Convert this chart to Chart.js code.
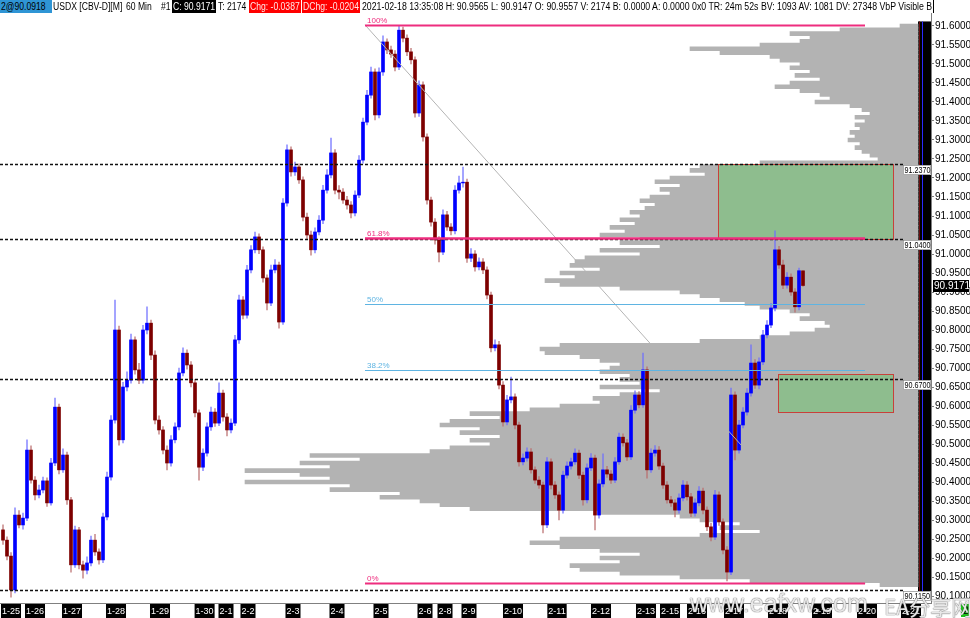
<!DOCTYPE html>
<html><head><meta charset="utf-8">
<script src="https://cdn.jsdelivr.net/npm/chart.js@4.4.1/dist/chart.umd.min.js"></script>
<style>
html,body{margin:0;padding:0;background:#fff;}
#wrap{position:relative;width:970px;height:618px;overflow:hidden;background:#fff;}
#c{position:absolute;left:0;top:0;}
#hdr{position:absolute;left:0;top:0;height:13px;width:933px;overflow:hidden;white-space:nowrap;font:10px "Liberation Sans",sans-serif;line-height:13px;color:#000;border-right:1px solid #000;}
#hdr div{position:absolute;top:0;height:13px;white-space:nowrap;overflow:hidden;}
#hdr span{display:inline-block;transform:scaleX(0.86);transform-origin:0 0;}
#hdr span.lng{transform:scaleX(0.875);}
.blu{background:#2f95d5;}
.blk{background:#000;color:#fff;}
.red{background:#ff0000;color:#ffe6e6;}
#grn{position:absolute;left:961px;top:604px;width:9px;height:13px;background:#19c419;font:10px "Liberation Sans";line-height:13px;padding-left:2px;color:#000;}
.wm{position:absolute;color:rgba(255,255,255,0.85);text-shadow:0 0 1px #666,0 0 1px #666;white-space:nowrap;}
</style></head>
<body>
<div id="wrap">
<canvas id="c" width="970" height="618"></canvas>
<div id="hdr">
<div class="blu" style="left:0;width:51px;padding-left:1px;"><span>2@90.0918</span></div>
<div style="left:53px"><span>USDX [CBV-D][M]</span></div>
<div style="left:126px"><span>60 Min</span></div>
<div style="left:161px"><span>#1</span></div>
<div class="blk" style="left:172px;width:43px;padding-left:1px;"><span>C: 90.9171</span></div>
<div style="left:218px"><span>T: 2174</span></div>
<div class="red" style="left:249px;width:51px;padding-left:1px;"><span>Chg: -0.0387</span></div>
<div class="red" style="left:302px;width:57px;padding-left:1px;"><span>DChg: -0.0204</span></div>
<div style="left:362px;width:580px"><span class="lng">2021-02-18 13:35:08 H: 90.9565 L: 90.9147 O: 90.9557 V: 2174 B: 0.0000 A: 0.0000 0x0 TR: 24m 52s BV: 1093 AV: 1081 DV: 27348 VbP Visible B</span></div>
</div>
<div id="grn">2</div>
<div class="wm" style="left:690px;top:589px;font:25px 'Liberation Sans',sans-serif;">www.eafxw.com</div>
<div class="wm" style="left:884px;top:591px;font:21px 'Noto Sans CJK SC',sans-serif;">EA分享网</div>
</div>
<script>
// ---- candle data (60 Min, USDX) ----
const opens = [
90.274,90.247,90.205,90.116,90.313,90.287,90.305,90.484,90.405,90.366,
90.379,90.403,90.345,90.450,90.597,90.432,90.471,90.353,90.182,90.274,
90.182,90.168,90.187,90.247,90.216,90.195,90.308,90.413,90.563,90.800,
90.511,90.650,90.668,90.774,90.695,90.668,90.800,90.818,90.734,90.563,
90.537,90.484,90.450,90.511,90.545,90.687,90.739,90.708,90.661,90.582,
90.439,90.476,90.545,90.584,90.555,90.634,90.571,90.537,90.555,90.774,
90.879,90.839,90.958,91.011,91.045,91.011,90.937,90.871,90.958,90.971,
90.821,91.134,91.274,91.216,91.229,91.195,91.097,91.050,91.011,91.058,
91.089,91.168,91.208,91.266,91.168,91.163,91.142,91.129,91.108,91.155,
91.247,91.347,91.418,91.479,91.366,91.479,91.558,91.537,91.526,91.492,
91.589,91.568,91.532,91.511,91.371,91.445,91.308,91.142,91.084,91.037,
91.005,91.103,91.071,91.061,91.168,91.187,91.189,90.989,91.000,90.966,
90.979,90.958,90.892,90.753,90.761,90.655,90.558,90.616,90.624,90.550,
90.453,90.463,90.479,90.432,90.405,90.392,90.287,90.453,90.392,90.366,
90.326,90.418,90.442,90.453,90.476,90.418,90.353,90.437,90.463,90.313,
90.395,90.432,90.421,90.405,90.453,90.518,90.503,90.466,90.589,90.629,
90.603,90.695,90.432,90.476,90.484,90.442,90.392,90.353,90.345,90.326,
90.358,90.392,90.361,90.318,90.345,90.376,90.326,90.282,90.255,90.366,
90.295,90.221,90.163,90.629,90.484,90.550,90.584,90.634,90.713,90.655,
90.716,90.787,90.813,90.858,91.011,90.971,90.918,90.939,90.900,90.861,
90.9557];
const highs = [
90.287,90.256,90.214,90.332,90.325,90.318,90.511,90.495,90.414,90.392,
90.413,90.411,90.462,90.621,90.605,90.487,90.479,90.360,90.284,90.281,
90.192,90.203,90.258,90.262,90.224,90.318,90.426,90.575,90.879,90.810,
90.662,90.690,90.789,90.782,90.712,90.812,90.861,90.826,90.745,90.574,
90.546,90.495,90.522,90.556,90.700,90.753,90.748,90.717,90.670,90.590,
90.487,90.556,90.597,90.593,90.661,90.642,90.580,90.566,90.786,90.892,
90.888,90.970,91.022,91.058,91.053,91.019,90.945,90.971,90.985,90.979,
91.146,91.287,91.282,91.242,91.237,91.203,91.108,91.060,91.069,91.101,
91.181,91.222,91.305,91.275,91.180,91.172,91.152,91.138,91.166,91.259,
91.358,91.431,91.492,91.487,91.490,91.574,91.566,91.547,91.535,91.601,
91.597,91.577,91.541,91.519,91.456,91.453,91.316,91.150,91.093,91.046,
91.116,91.112,91.080,91.180,91.205,91.229,91.197,91.014,91.009,90.990,
90.988,90.966,90.900,90.774,90.770,90.664,90.628,90.676,90.632,90.558,
90.474,90.490,90.488,90.440,90.414,90.400,90.464,90.461,90.401,90.374,
90.429,90.453,90.463,90.487,90.484,90.426,90.448,90.475,90.471,90.406,
90.474,90.441,90.430,90.464,90.529,90.527,90.512,90.601,90.640,90.638,
90.739,90.703,90.487,90.496,90.493,90.450,90.401,90.362,90.354,90.369,
90.404,90.401,90.370,90.356,90.388,90.384,90.335,90.291,90.378,90.374,
90.303,90.230,90.647,90.637,90.562,90.596,90.646,90.761,90.722,90.727,
90.799,90.825,90.870,91.061,91.020,90.984,90.951,90.948,90.909,90.963,
90.9565];
const lows = [
90.236,90.195,90.097,90.108,90.279,90.276,90.298,90.397,90.353,90.358,
90.371,90.336,90.339,90.443,90.421,90.425,90.341,90.163,90.175,90.171,
90.147,90.158,90.179,90.207,90.184,90.188,90.300,90.405,90.555,90.497,
90.503,90.640,90.660,90.684,90.659,90.660,90.790,90.722,90.553,90.526,
90.474,90.432,90.442,90.503,90.537,90.679,90.697,90.650,90.571,90.405,
90.430,90.468,90.536,90.546,90.548,90.560,90.521,90.529,90.548,90.765,
90.829,90.831,90.950,91.003,91.001,90.926,90.853,90.864,90.950,90.805,
90.815,91.126,91.205,91.207,91.186,91.087,91.039,90.997,91.003,91.050,
91.080,91.160,91.200,91.158,91.145,91.133,91.118,91.095,91.100,91.148,
91.239,91.340,91.410,91.353,91.358,91.470,91.527,91.517,91.482,91.485,
91.558,91.522,91.500,91.360,91.362,91.297,91.131,91.073,91.026,90.979,
90.998,91.062,91.050,91.053,91.160,91.176,90.978,90.980,90.955,90.958,
90.948,90.882,90.742,90.745,90.645,90.547,90.550,90.608,90.540,90.442,
90.445,90.455,90.423,90.396,90.383,90.266,90.280,90.382,90.357,90.300,
90.318,90.410,90.434,90.446,90.409,90.339,90.345,90.430,90.274,90.305,
90.387,90.412,90.396,90.398,90.446,90.494,90.457,90.459,90.581,90.595,
90.596,90.410,90.425,90.468,90.433,90.383,90.344,90.336,90.308,90.318,
90.350,90.352,90.309,90.310,90.337,90.316,90.272,90.245,90.248,90.286,
90.211,90.140,90.156,90.458,90.476,90.542,90.576,90.626,90.646,90.645,
90.709,90.779,90.806,90.850,90.962,90.909,90.910,90.891,90.847,90.853,
90.9147];
const closes = [
90.247,90.205,90.116,90.313,90.287,90.305,90.484,90.405,90.366,90.379,
90.403,90.345,90.450,90.597,90.432,90.471,90.353,90.182,90.274,90.182,
90.168,90.187,90.247,90.216,90.195,90.308,90.413,90.563,90.800,90.511,
90.650,90.668,90.774,90.695,90.668,90.800,90.818,90.734,90.563,90.537,
90.484,90.450,90.511,90.545,90.687,90.739,90.708,90.661,90.582,90.439,
90.476,90.545,90.584,90.555,90.634,90.571,90.537,90.555,90.774,90.879,
90.839,90.958,91.011,91.045,91.011,90.937,90.871,90.958,90.971,90.821,
91.134,91.274,91.216,91.229,91.195,91.097,91.050,91.011,91.058,91.089,
91.168,91.208,91.266,91.168,91.163,91.142,91.129,91.108,91.155,91.247,
91.347,91.418,91.479,91.366,91.479,91.558,91.537,91.526,91.492,91.589,
91.568,91.532,91.511,91.371,91.445,91.308,91.142,91.084,91.037,91.005,
91.103,91.071,91.061,91.168,91.187,91.189,90.989,91.000,90.966,90.979,
90.958,90.892,90.753,90.761,90.655,90.558,90.616,90.624,90.550,90.453,
90.463,90.479,90.432,90.405,90.392,90.287,90.453,90.392,90.366,90.326,
90.418,90.442,90.453,90.476,90.418,90.353,90.437,90.463,90.313,90.395,
90.432,90.421,90.405,90.453,90.518,90.503,90.466,90.589,90.629,90.603,
90.695,90.432,90.476,90.484,90.442,90.392,90.353,90.345,90.326,90.358,
90.392,90.361,90.318,90.345,90.376,90.326,90.282,90.255,90.366,90.295,
90.221,90.163,90.629,90.484,90.550,90.584,90.634,90.713,90.655,90.716,
90.787,90.813,90.858,91.011,90.971,90.918,90.939,90.900,90.861,90.956,
90.9171];

// ---- x axis (day starts, in bar-index units) ----
const xTickLabels = ['1-25','1-26','1-27','1-28','1-29','1-30','2-1','2-2','2-3','2-4','2-5','2-6','2-8','2-9','2-10','2-11','2-12','2-13','2-15','2-16','2-17','2-18','2-19','2-20','2-21'];
const xTickPos = [2.0,8.0,17.25,28.25,39.25,50.4,55.75,61.25,72.5,83.5,94.5,105.5,110.5,116.5,127.5,138.5,149.5,160.75,166.75,173.5,182.75,193.75,204.75,216.0,227.0];

// ---- price axis ticks ----
const yTicks = [91.60,91.55,91.50,91.45,91.40,91.35,91.30,91.25,91.20,91.15,91.10,91.05,91.00,90.95,90.90,90.85,90.80,90.75,90.70,90.65,90.60,90.55,90.50,90.45,90.40,90.35,90.30,90.25,90.20,90.15,90.10];

// ---- volume-by-price (visible bars) ----
const profilePrices = [
91.60,91.59,91.58,91.57,91.56,91.55,91.54,91.53,91.52,91.51,
91.50,91.49,91.48,91.47,91.46,91.45,91.44,91.43,91.42,91.41,
91.40,91.39,91.38,91.37,91.36,91.35,91.34,91.33,91.32,91.31,
91.30,91.29,91.28,91.27,91.26,91.25,91.24,91.23,91.22,91.21,
91.20,91.19,91.18,91.17,91.16,91.15,91.14,91.13,91.12,91.11,
91.10,91.09,91.08,91.07,91.06,91.05,91.04,91.03,91.02,91.01,
91.00,90.99,90.98,90.97,90.96,90.95,90.94,90.93,90.92,90.91,
90.90,90.89,90.88,90.87,90.86,90.85,90.84,90.83,90.82,90.81,
90.80,90.79,90.78,90.77,90.76,90.75,90.74,90.73,90.72,90.71,
90.70,90.69,90.68,90.67,90.66,90.65,90.64,90.63,90.62,90.61,
90.60,90.59,90.58,90.57,90.56,90.55,90.54,90.53,90.52,90.51,
90.50,90.49,90.48,90.47,90.46,90.45,90.44,90.43,90.42,90.41,
90.40,90.39,90.38,90.37,90.36,90.35,90.34,90.33,90.32,90.31,
90.30,90.29,90.28,90.27,90.26,90.25,90.24,90.23,90.22,90.21,
90.20,90.19,90.18,90.17,90.16,90.15,90.14,90.13];
const profileVol = [
180,780,1280,1080,1180,1580,2280,1980,1480,1380,
1180,1280,1080,1230,980,1280,1430,1180,980,880,
1030,680,560,480,630,530,630,580,680,630,
700,580,630,560,480,400,1580,2180,2280,2130,
2480,2630,2380,2580,2480,2680,2780,2630,2730,2880,
2780,2980,2830,3080,2930,3180,2780,2980,2580,3180,
2780,3330,3430,3480,3180,3580,3430,3730,3580,2980,
2380,2180,1980,1730,1580,1280,1080,1180,930,880,
1030,1280,1580,2180,3580,3780,3730,3380,3180,2980,
3080,3180,2880,2980,2780,3180,2580,2980,3250,3180,
3580,3880,4480,4180,4680,4780,4380,4580,4180,4480,
4280,4680,4880,6080,5580,6180,5880,6730,6180,5880,
6730,5680,5880,5180,5380,4980,4780,4480,3180,2380,
2180,1780,1980,1580,2180,3580,3880,3580,3180,2780,
3180,2980,3480,3380,2980,2380,1680,380];

// ---- annotations ----
const fibHigh = 91.603, fibLow = 90.133;
const fibLevels = [1, 0.618, 0.5, 0.382, 0];
const fibLabels = ['100%', '61.8%', '50%', '38.2%', '0%'];
const fibStartIdx = 90.5, fibEndIdx = 215.5;
const levelLines = [91.237, 91.04, 90.67, 90.115];
const zoneFrom = [178.75, 193.75];
const zoneTo = [222.5, 222.5];
const zoneTop = [91.237, 90.684];
const zoneBottom = [91.04, 90.584];
const lastPrice = 90.9171;

const N = closes.length;
const bodyData = [], wickData = [], bodyColors = [], wickColors = [];
for (let i = 0; i < N; i++) {
  bodyData.push({x: i, y: [opens[i], closes[i]]});
  wickData.push({x: i, y: [lows[i], highs[i]]});
  const up = closes[i] >= opens[i];
  bodyColors.push(up ? '#0000ff' : '#7d0000');
  wickColors.push(up ? 'rgba(110,110,255,0.75)' : 'rgba(185,110,110,0.75)');
}
const profData = profilePrices.map((p, i) => ({x: profileVol[i], y: p}));

const PINK = '#ee2d7e', BLUE = '#5fb4e2';
const fibColors = [PINK, PINK, BLUE, BLUE, PINK];
const fibWidths = [2, 2.5, 1, 1, 2];

function narrowText(ctx, txt, x, y, sx) {
  ctx.save();
  ctx.translate(x, y);
  ctx.scale(sx, 1);
  ctx.fillText(txt, 0, 0);
  ctx.restore();
}

const decor = {
  id: 'decor',
  beforeDatasetsDraw(chart) {
    const {ctx, chartArea: a, scales: {y}} = chart;
    const t = y.getPixelForValue(91.612), b = y.getPixelForValue(90.09);
    ctx.save();
    ctx.fillStyle = '#000';
    ctx.fillRect(a.right - 13, t, 13, b - t);
    ctx.fillStyle = '#2a2aff';
    ctx.fillRect(a.right - 9, t, 1, b - t);
    ctx.fillStyle = '#6a1010';
    ctx.fillRect(a.right - 12, t, 1, b - t);
    ctx.restore();
  },
  afterDatasetDraw(chart, args) {
    if (chart.data.datasets[args.index].label !== 'profile') return;
    const {ctx, scales: {x, y}} = chart;
    ctx.save();
    for (let k = 0; k < zoneFrom.length; k++) {
      const x1 = x.getPixelForValue(zoneFrom[k]), x2 = x.getPixelForValue(zoneTo[k]);
      const y1 = y.getPixelForValue(zoneTop[k]), y2 = y.getPixelForValue(zoneBottom[k]);
      ctx.fillStyle = 'rgba(106,200,106,0.5)';
      ctx.fillRect(x1, y1, x2 - x1, y2 - y1);
      ctx.strokeStyle = '#c8403a';
      ctx.lineWidth = 1;
      ctx.strokeRect(Math.round(x1) + 0.5, Math.round(y1) + 0.5, Math.round(x2 - x1), Math.round(y2 - y1));
    }
    ctx.restore();
  },
  afterDatasetsDraw(chart) {
    const {ctx, chartArea: a, scales: {x, y}} = chart;
    ctx.save();
    const fx1 = x.getPixelForValue(fibStartIdx), fx2 = x.getPixelForValue(fibEndIdx);
    ctx.strokeStyle = '#b4b4b4'; ctx.lineWidth = 1;
    ctx.beginPath();
    ctx.moveTo(fx1, y.getPixelForValue(fibHigh));
    ctx.lineTo(fx2, y.getPixelForValue(fibLow));
    ctx.stroke();
    ctx.setLineDash([3, 2]);
    ctx.strokeStyle = '#111'; ctx.lineWidth = 1.5;
    levelLines.forEach(v => {
      const py = Math.round(y.getPixelForValue(v)) + 0.5;
      ctx.beginPath(); ctx.moveTo(a.left, py); ctx.lineTo(a.right - 28, py); ctx.stroke();
    });
    ctx.setLineDash([]);
    ctx.font = '8px "Liberation Sans", sans-serif';
    ctx.textBaseline = 'alphabetic';
    fibLevels.forEach((f, k) => {
      const p = fibLow + f * (fibHigh - fibLow);
      const py = Math.round(y.getPixelForValue(p)) + 0.5;
      ctx.strokeStyle = fibColors[k]; ctx.lineWidth = fibWidths[k];
      ctx.beginPath(); ctx.moveTo(fx1, py); ctx.lineTo(fx2, py); ctx.stroke();
      ctx.fillStyle = fibColors[k];
      ctx.fillText(fibLabels[k], fx1 + 2, py - 3);
    });
    ctx.font = '9px "Liberation Sans", sans-serif';
    ctx.textBaseline = 'middle';
    levelLines.forEach(v => {
      const py = Math.round(y.getPixelForValue(v));
      ctx.fillStyle = '#fff';
      ctx.fillRect(a.right - 28, py + 1, 28, 10);
      ctx.strokeStyle = '#777'; ctx.lineWidth = 0.6;
      ctx.strokeRect(a.right - 27.5, py + 1.5, 27, 9);
      ctx.fillStyle = '#000';
      narrowText(ctx, v.toFixed(4), a.right - 26.5, py + 6.5, 0.8);
    });
    ctx.restore();
  },
  afterDraw(chart) {
    const {ctx, chartArea: a, scales: {y}} = chart;
    const py = Math.round(y.getPixelForValue(lastPrice));
    ctx.save();
    ctx.fillStyle = '#000';
    ctx.fillRect(a.right + 2, py - 6, 36, 12);
    ctx.fillStyle = '#fff';
    ctx.font = '10px "Liberation Sans", sans-serif';
    ctx.textBaseline = 'middle';
    ctx.fillText(lastPrice.toFixed(4), a.right + 3, py + 0.5);
    ctx.restore();
  }
};

new Chart(document.getElementById('c'), {
  type: 'bar',
  data: {
    datasets: [
      {label: 'bodies', data: bodyData, backgroundColor: bodyColors, barThickness: 3, grouped: false, order: 0, xAxisID: 'x', yAxisID: 'y'},
      {label: 'wicks', data: wickData, backgroundColor: wickColors, barThickness: 1, grouped: false, order: 1, xAxisID: 'x', yAxisID: 'y'},
      {label: 'profile', indexAxis: 'y', data: profData, backgroundColor: '#b3b3b3', barThickness: 3.9, grouped: false, order: 2, xAxisID: 'xv', yAxisID: 'yp'}
    ]
  },
  options: {
    responsive: false,
    animation: false,
    events: [],
    layout: {padding: {top: 13, left: 0, right: 0, bottom: 0}},
    plugins: {legend: {display: false}, tooltip: {enabled: false}},
    scales: {
      x: {
        type: 'linear', axis: 'x', position: 'bottom', min: -0.75, max: 232, offset: false,
        afterBuildTicks: s => { s.ticks = xTickPos.map(v => ({value: v})); },
        afterFit: s => { s.height = 15; },
        ticks: {autoSkip: false, maxRotation: 0, minRotation: 0, color: '#fff',
          font: {family: 'Liberation Sans', size: 9}, padding: 1,
          showLabelBackdrop: true, backdropColor: '#000', backdropPadding: {x: 1, y: 2},
          callback: (v, i) => xTickLabels[i]},
        grid: {display: true, drawOnChartArea: false, drawTicks: true, tickLength: 2, color: '#808080', offset: false},
        border: {display: true, color: '#808080'}
      },
      y: {
        type: 'linear', axis: 'y', position: 'right', min: 90.0816, max: 91.6342, offset: false,
        afterBuildTicks: s => { s.ticks = yTicks.map(v => ({value: v})); },
        afterFit: s => { s.width = 39; },
        ticks: {autoSkip: false, color: '#000', font: {family: 'Liberation Sans', size: 10}, padding: 1,
          callback: v => Number(v).toFixed(4)},
        grid: {display: true, drawOnChartArea: false, drawTicks: true, tickLength: 3, color: '#808080', offset: false},
        border: {display: true, color: '#808080'}
      },
      xv: {type: 'linear', axis: 'x', display: false, reverse: true, min: -130, max: 9180, offset: false, grid: {offset: false}},
      yp: {type: 'linear', axis: 'y', display: false, min: 90.0816, max: 91.6342, offset: false, grid: {offset: false}}
    }
  },
  plugins: [decor]
});
</script>
</body></html>
